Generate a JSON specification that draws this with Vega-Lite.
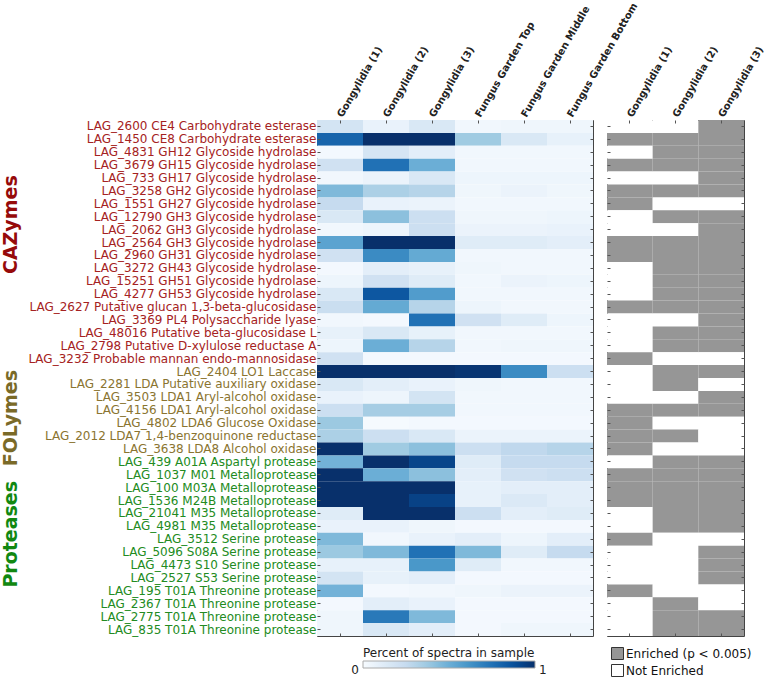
{
  "$schema": "https://vega.github.io/schema/vega-lite/v6.json",
  "background": "white",
  "padding": {"left": 0, "top": 0, "right": 5, "bottom": 0},
  "config": {
    "view": {"stroke": "#444444", "strokeWidth": 1},
    "font": "DejaVu Sans",
    "axis": {"labelFont": "DejaVu Sans", "tickColor": "#555555", "tickWidth": 1},
    "legend": {"labelFont": "DejaVu Sans", "titleFont": "DejaVu Sans"}
  },
  "datasets": {
    "heat": [
      {"gene": "LAG_2600 CE4 Carbohydrate esterase", "group": "CAZymes", "Gongylidia (1)": 0.18, "Gongylidia (2)": 0.07, "Gongylidia (3)": 0.15, "Fungus Garden Top": 0.03, "Fungus Garden Middle": 0.04, "Fungus Garden Bottom": 0.04},
      {"gene": "LAG_1450 CE8 Carbohydrate esterase", "group": "CAZymes", "Gongylidia (1)": 0.8, "Gongylidia (2)": 1.0, "Gongylidia (3)": 1.0, "Fungus Garden Top": 0.37, "Fungus Garden Middle": 0.15, "Fungus Garden Bottom": 0.08},
      {"gene": "LAG_4831 GH12 Glycoside hydrolase", "group": "CAZymes", "Gongylidia (1)": 0.02, "Gongylidia (2)": 0.17, "Gongylidia (3)": 0.1, "Fungus Garden Top": 0.03, "Fungus Garden Middle": 0.03, "Fungus Garden Bottom": 0.03},
      {"gene": "LAG_3679 GH15 Glycoside hydrolase", "group": "CAZymes", "Gongylidia (1)": 0.2, "Gongylidia (2)": 0.75, "Gongylidia (3)": 0.5, "Fungus Garden Top": 0.03, "Fungus Garden Middle": 0.03, "Fungus Garden Bottom": 0.03},
      {"gene": "LAG_733 GH17 Glycoside hydrolase", "group": "CAZymes", "Gongylidia (1)": 0.03, "Gongylidia (2)": 0.06, "Gongylidia (3)": 0.15, "Fungus Garden Top": 0.05, "Fungus Garden Middle": 0.05, "Fungus Garden Bottom": 0.05},
      {"gene": "LAG_3258 GH2 Glycoside hydrolase", "group": "CAZymes", "Gongylidia (1)": 0.45, "Gongylidia (2)": 0.33, "Gongylidia (3)": 0.3, "Fungus Garden Top": 0.04, "Fungus Garden Middle": 0.06, "Fungus Garden Bottom": 0.04},
      {"gene": "LAG_1551 GH27 Glycoside hydrolase", "group": "CAZymes", "Gongylidia (1)": 0.25, "Gongylidia (2)": 0.07, "Gongylidia (3)": 0.06, "Fungus Garden Top": 0.03, "Fungus Garden Middle": 0.03, "Fungus Garden Bottom": 0.03},
      {"gene": "LAG_12790 GH3 Glycoside hydrolase", "group": "CAZymes", "Gongylidia (1)": 0.15, "Gongylidia (2)": 0.42, "Gongylidia (3)": 0.22, "Fungus Garden Top": 0.04, "Fungus Garden Middle": 0.04, "Fungus Garden Bottom": 0.05},
      {"gene": "LAG_2062 GH3 Glycoside hydrolase", "group": "CAZymes", "Gongylidia (1)": 0.03, "Gongylidia (2)": 0.05, "Gongylidia (3)": 0.22, "Fungus Garden Top": 0.06, "Fungus Garden Middle": 0.06, "Fungus Garden Bottom": 0.07},
      {"gene": "LAG_2564 GH3 Glycoside hydrolase", "group": "CAZymes", "Gongylidia (1)": 0.55, "Gongylidia (2)": 1.0, "Gongylidia (3)": 1.0, "Fungus Garden Top": 0.12, "Fungus Garden Middle": 0.12, "Fungus Garden Bottom": 0.1},
      {"gene": "LAG_2960 GH31 Glycoside hydrolase", "group": "CAZymes", "Gongylidia (1)": 0.2, "Gongylidia (2)": 0.65, "Gongylidia (3)": 0.52, "Fungus Garden Top": 0.03, "Fungus Garden Middle": 0.03, "Fungus Garden Bottom": 0.03},
      {"gene": "LAG_3272 GH43 Glycoside hydrolase", "group": "CAZymes", "Gongylidia (1)": 0.02, "Gongylidia (2)": 0.1, "Gongylidia (3)": 0.08, "Fungus Garden Top": 0.04, "Fungus Garden Middle": 0.03, "Fungus Garden Bottom": 0.03},
      {"gene": "LAG_15251 GH51 Glycoside hydrolase", "group": "CAZymes", "Gongylidia (1)": 0.05, "Gongylidia (2)": 0.2, "Gongylidia (3)": 0.12, "Fungus Garden Top": 0.03, "Fungus Garden Middle": 0.06, "Fungus Garden Bottom": 0.05},
      {"gene": "LAG_4277 GH53 Glycoside hydrolase", "group": "CAZymes", "Gongylidia (1)": 0.15, "Gongylidia (2)": 0.85, "Gongylidia (3)": 0.58, "Fungus Garden Top": 0.03, "Fungus Garden Middle": 0.03, "Fungus Garden Bottom": 0.03},
      {"gene": "LAG_2627 Putative glucan 1,3-beta-glucosidase", "group": "CAZymes", "Gongylidia (1)": 0.23, "Gongylidia (2)": 0.52, "Gongylidia (3)": 0.3, "Fungus Garden Top": 0.05, "Fungus Garden Middle": 0.03, "Fungus Garden Bottom": 0.03},
      {"gene": "LAG_3369 PL4 Polysaccharide lyase", "group": "CAZymes", "Gongylidia (1)": 0.03, "Gongylidia (2)": 0.02, "Gongylidia (3)": 0.75, "Fungus Garden Top": 0.2, "Fungus Garden Middle": 0.12, "Fungus Garden Bottom": 0.05},
      {"gene": "LAG_48016 Putative beta-glucosidase L", "group": "CAZymes", "Gongylidia (1)": 0.08, "Gongylidia (2)": 0.15, "Gongylidia (3)": 0.08, "Fungus Garden Top": 0.03, "Fungus Garden Middle": 0.03, "Fungus Garden Bottom": 0.03},
      {"gene": "LAG_2798 Putative D-xylulose reductase A", "group": "CAZymes", "Gongylidia (1)": 0.05, "Gongylidia (2)": 0.5, "Gongylidia (3)": 0.3, "Fungus Garden Top": 0.03, "Fungus Garden Middle": 0.04, "Fungus Garden Bottom": 0.04},
      {"gene": "LAG_3232 Probable mannan endo-mannosidase", "group": "CAZymes", "Gongylidia (1)": 0.2, "Gongylidia (2)": 0.02, "Gongylidia (3)": 0.02, "Fungus Garden Top": 0.02, "Fungus Garden Middle": 0.02, "Fungus Garden Bottom": 0.02},
      {"gene": "LAG_2404 LO1 Laccase", "group": "FOLymes", "Gongylidia (1)": 1.0, "Gongylidia (2)": 1.0, "Gongylidia (3)": 1.0, "Fungus Garden Top": 0.98, "Fungus Garden Middle": 0.65, "Fungus Garden Bottom": 0.22},
      {"gene": "LAG_2281 LDA Putative auxiliary oxidase", "group": "FOLymes", "Gongylidia (1)": 0.15, "Gongylidia (2)": 0.1, "Gongylidia (3)": 0.07, "Fungus Garden Top": 0.04, "Fungus Garden Middle": 0.03, "Fungus Garden Bottom": 0.03},
      {"gene": "LAG_3503 LDA1 Aryl-alcohol oxidase", "group": "FOLymes", "Gongylidia (1)": 0.07, "Gongylidia (2)": 0.05, "Gongylidia (3)": 0.18, "Fungus Garden Top": 0.03, "Fungus Garden Middle": 0.03, "Fungus Garden Bottom": 0.03},
      {"gene": "LAG_4156 LDA1 Aryl-alcohol oxidase", "group": "FOLymes", "Gongylidia (1)": 0.22, "Gongylidia (2)": 0.35, "Gongylidia (3)": 0.35, "Fungus Garden Top": 0.03, "Fungus Garden Middle": 0.03, "Fungus Garden Bottom": 0.03},
      {"gene": "LAG_4802 LDA6 Glucose Oxidase", "group": "FOLymes", "Gongylidia (1)": 0.38, "Gongylidia (2)": 0.01, "Gongylidia (3)": 0.02, "Fungus Garden Top": 0.02, "Fungus Garden Middle": 0.02, "Fungus Garden Bottom": 0.02},
      {"gene": "LAG_2012 LDA7 1,4-benzoquinone reductase", "group": "FOLymes", "Gongylidia (1)": 0.33, "Gongylidia (2)": 0.22, "Gongylidia (3)": 0.15, "Fungus Garden Top": 0.06, "Fungus Garden Middle": 0.06, "Fungus Garden Bottom": 0.06},
      {"gene": "LAG_3638 LDA8 Alcohol oxidase", "group": "FOLymes", "Gongylidia (1)": 1.0, "Gongylidia (2)": 0.37, "Gongylidia (3)": 0.42, "Fungus Garden Top": 0.22, "Fungus Garden Middle": 0.27, "Fungus Garden Bottom": 0.3},
      {"gene": "LAG_439 A01A  Aspartyl protease", "group": "Proteases", "Gongylidia (1)": 0.48, "Gongylidia (2)": 1.0, "Gongylidia (3)": 0.92, "Fungus Garden Top": 0.12, "Fungus Garden Middle": 0.25, "Fungus Garden Bottom": 0.25},
      {"gene": "LAG_1037 M01 Metalloprotease", "group": "Proteases", "Gongylidia (1)": 1.0, "Gongylidia (2)": 0.5, "Gongylidia (3)": 0.42, "Fungus Garden Top": 0.1, "Fungus Garden Middle": 0.2, "Fungus Garden Bottom": 0.22},
      {"gene": "LAG_100 M03A Metalloprotease", "group": "Proteases", "Gongylidia (1)": 1.0, "Gongylidia (2)": 1.0, "Gongylidia (3)": 1.0, "Fungus Garden Top": 0.08, "Fungus Garden Middle": 0.1, "Fungus Garden Bottom": 0.1},
      {"gene": "LAG_1536 M24B Metalloprotease", "group": "Proteases", "Gongylidia (1)": 1.0, "Gongylidia (2)": 1.0, "Gongylidia (3)": 0.93, "Fungus Garden Top": 0.08, "Fungus Garden Middle": 0.14, "Fungus Garden Bottom": 0.1},
      {"gene": "LAG_21041 M35 Metalloprotease", "group": "Proteases", "Gongylidia (1)": 0.12, "Gongylidia (2)": 1.0, "Gongylidia (3)": 1.0, "Fungus Garden Top": 0.22, "Fungus Garden Middle": 0.1, "Fungus Garden Bottom": 0.12},
      {"gene": "LAG_4981 M35 Metalloprotease", "group": "Proteases", "Gongylidia (1)": 0.07, "Gongylidia (2)": 0.07, "Gongylidia (3)": 0.04, "Fungus Garden Top": 0.02, "Fungus Garden Middle": 0.02, "Fungus Garden Bottom": 0.02},
      {"gene": "LAG_3512 Serine protease", "group": "Proteases", "Gongylidia (1)": 0.45, "Gongylidia (2)": 0.03, "Gongylidia (3)": 0.07, "Fungus Garden Top": 0.1, "Fungus Garden Middle": 0.05, "Fungus Garden Bottom": 0.1},
      {"gene": "LAG_5096 S08A Serine protease", "group": "Proteases", "Gongylidia (1)": 0.38, "Gongylidia (2)": 0.45, "Gongylidia (3)": 0.75, "Fungus Garden Top": 0.45, "Fungus Garden Middle": 0.12, "Fungus Garden Bottom": 0.25},
      {"gene": "LAG_4473 S10 Serine protease", "group": "Proteases", "Gongylidia (1)": 0.08, "Gongylidia (2)": 0.08, "Gongylidia (3)": 0.6, "Fungus Garden Top": 0.12, "Fungus Garden Middle": 0.03, "Fungus Garden Bottom": 0.03},
      {"gene": "LAG_2527 S53 Serine protease", "group": "Proteases", "Gongylidia (1)": 0.18, "Gongylidia (2)": 0.08, "Gongylidia (3)": 0.1, "Fungus Garden Top": 0.02, "Fungus Garden Middle": 0.02, "Fungus Garden Bottom": 0.02},
      {"gene": "LAG_195 T01A Threonine protease", "group": "Proteases", "Gongylidia (1)": 0.48, "Gongylidia (2)": 0.02, "Gongylidia (3)": 0.03, "Fungus Garden Top": 0.04, "Fungus Garden Middle": 0.06, "Fungus Garden Bottom": 0.06},
      {"gene": "LAG_2367 T01A Threonine protease", "group": "Proteases", "Gongylidia (1)": 0.02, "Gongylidia (2)": 0.1, "Gongylidia (3)": 0.07, "Fungus Garden Top": 0.02, "Fungus Garden Middle": 0.02, "Fungus Garden Bottom": 0.02},
      {"gene": "LAG_2775 T01A Threonine protease", "group": "Proteases", "Gongylidia (1)": 0.04, "Gongylidia (2)": 0.72, "Gongylidia (3)": 0.45, "Fungus Garden Top": 0.02, "Fungus Garden Middle": 0.02, "Fungus Garden Bottom": 0.02},
      {"gene": "LAG_835 T01A Threonine protease", "group": "Proteases", "Gongylidia (1)": 0.04, "Gongylidia (2)": 0.15, "Gongylidia (3)": 0.1, "Fungus Garden Top": 0.02, "Fungus Garden Middle": 0.04, "Fungus Garden Bottom": 0.04}
    ],
    "enrich": [
      {"gene": "LAG_2600 CE4 Carbohydrate esterase", "Gongylidia (1)": "N", "Gongylidia (2)": "N", "Gongylidia (3)": "E"},
      {"gene": "LAG_1450 CE8 Carbohydrate esterase", "Gongylidia (1)": "E", "Gongylidia (2)": "E", "Gongylidia (3)": "E"},
      {"gene": "LAG_4831 GH12 Glycoside hydrolase", "Gongylidia (1)": "N", "Gongylidia (2)": "E", "Gongylidia (3)": "E"},
      {"gene": "LAG_3679 GH15 Glycoside hydrolase", "Gongylidia (1)": "E", "Gongylidia (2)": "E", "Gongylidia (3)": "E"},
      {"gene": "LAG_733 GH17 Glycoside hydrolase", "Gongylidia (1)": "N", "Gongylidia (2)": "N", "Gongylidia (3)": "E"},
      {"gene": "LAG_3258 GH2 Glycoside hydrolase", "Gongylidia (1)": "E", "Gongylidia (2)": "E", "Gongylidia (3)": "E"},
      {"gene": "LAG_1551 GH27 Glycoside hydrolase", "Gongylidia (1)": "E", "Gongylidia (2)": "N", "Gongylidia (3)": "N"},
      {"gene": "LAG_12790 GH3 Glycoside hydrolase", "Gongylidia (1)": "N", "Gongylidia (2)": "E", "Gongylidia (3)": "E"},
      {"gene": "LAG_2062 GH3 Glycoside hydrolase", "Gongylidia (1)": "N", "Gongylidia (2)": "N", "Gongylidia (3)": "E"},
      {"gene": "LAG_2564 GH3 Glycoside hydrolase", "Gongylidia (1)": "E", "Gongylidia (2)": "E", "Gongylidia (3)": "E"},
      {"gene": "LAG_2960 GH31 Glycoside hydrolase", "Gongylidia (1)": "E", "Gongylidia (2)": "E", "Gongylidia (3)": "E"},
      {"gene": "LAG_3272 GH43 Glycoside hydrolase", "Gongylidia (1)": "N", "Gongylidia (2)": "E", "Gongylidia (3)": "E"},
      {"gene": "LAG_15251 GH51 Glycoside hydrolase", "Gongylidia (1)": "N", "Gongylidia (2)": "E", "Gongylidia (3)": "E"},
      {"gene": "LAG_4277 GH53 Glycoside hydrolase", "Gongylidia (1)": "N", "Gongylidia (2)": "E", "Gongylidia (3)": "E"},
      {"gene": "LAG_2627 Putative glucan 1,3-beta-glucosidase", "Gongylidia (1)": "E", "Gongylidia (2)": "E", "Gongylidia (3)": "E"},
      {"gene": "LAG_3369 PL4 Polysaccharide lyase", "Gongylidia (1)": "N", "Gongylidia (2)": "N", "Gongylidia (3)": "E"},
      {"gene": "LAG_48016 Putative beta-glucosidase L", "Gongylidia (1)": "N", "Gongylidia (2)": "E", "Gongylidia (3)": "E"},
      {"gene": "LAG_2798 Putative D-xylulose reductase A", "Gongylidia (1)": "N", "Gongylidia (2)": "E", "Gongylidia (3)": "E"},
      {"gene": "LAG_3232 Probable mannan endo-mannosidase", "Gongylidia (1)": "E", "Gongylidia (2)": "N", "Gongylidia (3)": "N"},
      {"gene": "LAG_2404 LO1 Laccase", "Gongylidia (1)": "N", "Gongylidia (2)": "E", "Gongylidia (3)": "E"},
      {"gene": "LAG_2281 LDA Putative auxiliary oxidase", "Gongylidia (1)": "N", "Gongylidia (2)": "E", "Gongylidia (3)": "N"},
      {"gene": "LAG_3503 LDA1 Aryl-alcohol oxidase", "Gongylidia (1)": "N", "Gongylidia (2)": "N", "Gongylidia (3)": "E"},
      {"gene": "LAG_4156 LDA1 Aryl-alcohol oxidase", "Gongylidia (1)": "E", "Gongylidia (2)": "E", "Gongylidia (3)": "E"},
      {"gene": "LAG_4802 LDA6 Glucose Oxidase", "Gongylidia (1)": "E", "Gongylidia (2)": "N", "Gongylidia (3)": "N"},
      {"gene": "LAG_2012 LDA7 1,4-benzoquinone reductase", "Gongylidia (1)": "E", "Gongylidia (2)": "E", "Gongylidia (3)": "N"},
      {"gene": "LAG_3638 LDA8 Alcohol oxidase", "Gongylidia (1)": "E", "Gongylidia (2)": "N", "Gongylidia (3)": "N"},
      {"gene": "LAG_439 A01A  Aspartyl protease", "Gongylidia (1)": "N", "Gongylidia (2)": "E", "Gongylidia (3)": "E"},
      {"gene": "LAG_1037 M01 Metalloprotease", "Gongylidia (1)": "E", "Gongylidia (2)": "E", "Gongylidia (3)": "E"},
      {"gene": "LAG_100 M03A Metalloprotease", "Gongylidia (1)": "E", "Gongylidia (2)": "E", "Gongylidia (3)": "E"},
      {"gene": "LAG_1536 M24B Metalloprotease", "Gongylidia (1)": "E", "Gongylidia (2)": "E", "Gongylidia (3)": "E"},
      {"gene": "LAG_21041 M35 Metalloprotease", "Gongylidia (1)": "N", "Gongylidia (2)": "E", "Gongylidia (3)": "E"},
      {"gene": "LAG_4981 M35 Metalloprotease", "Gongylidia (1)": "N", "Gongylidia (2)": "E", "Gongylidia (3)": "E"},
      {"gene": "LAG_3512 Serine protease", "Gongylidia (1)": "E", "Gongylidia (2)": "N", "Gongylidia (3)": "N"},
      {"gene": "LAG_5096 S08A Serine protease", "Gongylidia (1)": "N", "Gongylidia (2)": "N", "Gongylidia (3)": "E"},
      {"gene": "LAG_4473 S10 Serine protease", "Gongylidia (1)": "N", "Gongylidia (2)": "N", "Gongylidia (3)": "E"},
      {"gene": "LAG_2527 S53 Serine protease", "Gongylidia (1)": "N", "Gongylidia (2)": "N", "Gongylidia (3)": "E"},
      {"gene": "LAG_195 T01A Threonine protease", "Gongylidia (1)": "E", "Gongylidia (2)": "N", "Gongylidia (3)": "N"},
      {"gene": "LAG_2367 T01A Threonine protease", "Gongylidia (1)": "N", "Gongylidia (2)": "E", "Gongylidia (3)": "N"},
      {"gene": "LAG_2775 T01A Threonine protease", "Gongylidia (1)": "N", "Gongylidia (2)": "E", "Gongylidia (3)": "E"},
      {"gene": "LAG_835 T01A Threonine protease", "Gongylidia (1)": "N", "Gongylidia (2)": "E", "Gongylidia (3)": "E"}
    ]
  },
  "hconcat": [
    {
      "width": 276,
      "height": 516,
      "data": {"name": "heat"},
      "transform": [
        {"fold": ["Gongylidia (1)", "Gongylidia (2)", "Gongylidia (3)", "Fungus Garden Top", "Fungus Garden Middle", "Fungus Garden Bottom"], "as": ["sample", "value"]}
      ],
      "layer": [
        {
          "mark": {"type": "rect"},
          "encoding": {
            "x": {"field": "sample", "type": "nominal", "sort": null, "scale": {"paddingInner": 0, "paddingOuter": 0},
              "axis": {"orient": "top", "title": null, "domain": false, "tickSize": -3, "labelAngle": -60, "labelAlign": "left", "labelBaseline": "middle", "labelFontSize": 10, "labelFontWeight": "bold", "labelColor": "#222222", "labelPadding": 7, "labelLimit": 400}},
            "y": {"field": "gene", "type": "nominal", "sort": null, "scale": {"paddingInner": 0, "paddingOuter": 0},
              "axis": {"orient": "left", "title": null, "domain": false, "tickSize": -3, "labelFontSize": 12, "labelPadding": 4, "labelLimit": 400,
                "labelColor": {"condition": [
                  {"test": "indexof(['LAG_2404 LO1 Laccase','LAG_2281 LDA Putative auxiliary oxidase','LAG_3503 LDA1 Aryl-alcohol oxidase','LAG_4156 LDA1 Aryl-alcohol oxidase','LAG_4802 LDA6 Glucose Oxidase','LAG_2012 LDA7 1,4-benzoquinone reductase','LAG_3638 LDA8 Alcohol oxidase'], datum.value) >= 0", "value": "#8a7430"},
                  {"test": "indexof(datum.value, 'protease') >= 0", "value": "#228b22"}
                ], "value": "#a52222"}}},
            "color": {"field": "value", "type": "quantitative",
              "scale": {"domain": [0, 0.125, 0.25, 0.375, 0.5, 0.625, 0.75, 0.875, 1], "range": ["#f7fbff", "#deebf7", "#c6dbef", "#9ecae1", "#6baed6", "#4292c6", "#2171b5", "#08519c", "#08306b"], "interpolate": "rgb", "clamp": true},
              "legend": {"orient": "none", "legendX": 46, "legendY": 528, "direction": "horizontal", "gradientLength": 172, "gradientThickness": 7, "gradientStrokeColor": "#aaaaaa", "gradientStrokeWidth": 1,
                "title": "Percent of spectra in sample", "titleFontSize": 12, "titleFontWeight": "normal", "titleColor": "#222222", "titlePadding": 1,
                "values": [0, 1], "format": ".0f", "labelFontSize": 12, "labelColor": "#222222", "labelOffset": -3.5, "labelBaseline": "middle",
                "encode": {"labels": {"update": {"align": {"signal": "datum.value < 0.5 ? 'right' : 'left'"}, "dx": {"signal": "datum.value < 0.5 ? -4 : 4"}}}}}}
          }
        },
        {
          "mark": {"type": "rect", "opacity": 0},
          "encoding": {
            "x": {"field": "sample", "type": "nominal", "sort": null, "axis": {"orient": "bottom", "title": null, "labels": false, "domain": false, "tickSize": -3}},
            "y": {"field": "gene", "type": "nominal", "sort": null, "axis": {"orient": "right", "title": null, "labels": false, "domain": false, "tickSize": -3}}
          }
        },
        {
          "mark": {"type": "rect", "opacity": 0},
          "encoding": {
            "x": {"field": "sample", "type": "nominal", "sort": null, "axis": null},
            "y": {"field": "gene", "type": "nominal", "sort": null,
              "axis": {"orient": "left", "offset": 307, "title": null, "ticks": false, "domain": false, "labelPadding": 0, "labelAngle": -90, "labelAlign": "center", "labelBaseline": "middle", "labelFontSize": 19, "labelFontWeight": "bold", "labelOverlap": false, "labelLimit": 400, "labelOffset": -5,
                "labelExpr": "datum.value == 'LAG_2062 GH3 Glycoside hydrolase' ? 'CAZymes' : datum.value == 'LAG_4802 LDA6 Glucose Oxidase' ? 'FOLymes' : datum.value == 'LAG_3512 Serine protease' ? 'Proteases' : ''",
                "labelColor": {"condition": [
                  {"test": "datum.value == 'LAG_4802 LDA6 Glucose Oxidase'", "value": "#7a6a28"},
                  {"test": "datum.value == 'LAG_3512 Serine protease'", "value": "#118811"}
                ], "value": "#960a0a"}}}
          }
        }
      ],
      "resolve": {"axis": {"x": "independent", "y": "independent"}}
    },
    {
      "width": 137,
      "height": 516,
      "data": {"name": "enrich"},
      "transform": [
        {"fold": ["Gongylidia (1)", "Gongylidia (2)", "Gongylidia (3)"], "as": ["sample", "status"]}
      ],
      "layer": [
        {
          "mark": {"type": "rect"},
          "encoding": {
            "x": {"field": "sample", "type": "nominal", "sort": null, "scale": {"paddingInner": 0, "paddingOuter": 0},
              "axis": {"orient": "top", "title": null, "domain": false, "tickSize": -3, "labelAngle": -60, "labelAlign": "left", "labelBaseline": "middle", "labelFontSize": 10, "labelFontWeight": "bold", "labelColor": "#222222", "labelPadding": 7, "labelLimit": 400}},
            "y": {"field": "gene", "type": "nominal", "sort": null, "scale": {"paddingInner": 0, "paddingOuter": 0},
              "axis": {"orient": "left", "title": null, "labels": false, "domain": false, "tickSize": -3}},
            "fill": {"field": "status", "type": "nominal",
              "scale": {"domain": ["E", "N"], "range": ["#969696", "#ffffff"]},
              "legend": {"orient": "none", "legendX": 294, "legendY": 527, "title": null, "symbolType": "square", "symbolSize": 144, "symbolStrokeColor": "#333333", "symbolStrokeWidth": 1, "labelFontSize": 12, "labelColor": "#111111", "labelOffset": 2, "rowPadding": 0,
                "labelExpr": "datum.value == 'E' ? 'Enriched (p < 0.005)' : 'Not Enriched'"}}
          }
        },
        {
          "mark": {"type": "rect", "opacity": 0},
          "encoding": {
            "x": {"field": "sample", "type": "nominal", "sort": null, "axis": {"orient": "bottom", "title": null, "labels": false, "domain": false, "tickSize": -3}},
            "y": {"field": "gene", "type": "nominal", "sort": null, "axis": {"orient": "right", "title": null, "labels": false, "domain": false, "tickSize": -3}}
          }
        }
      ],
      "resolve": {"axis": {"x": "independent", "y": "independent"}}
    }
  ],
  "spacing": 14,
  "bounds": "flush"
}
